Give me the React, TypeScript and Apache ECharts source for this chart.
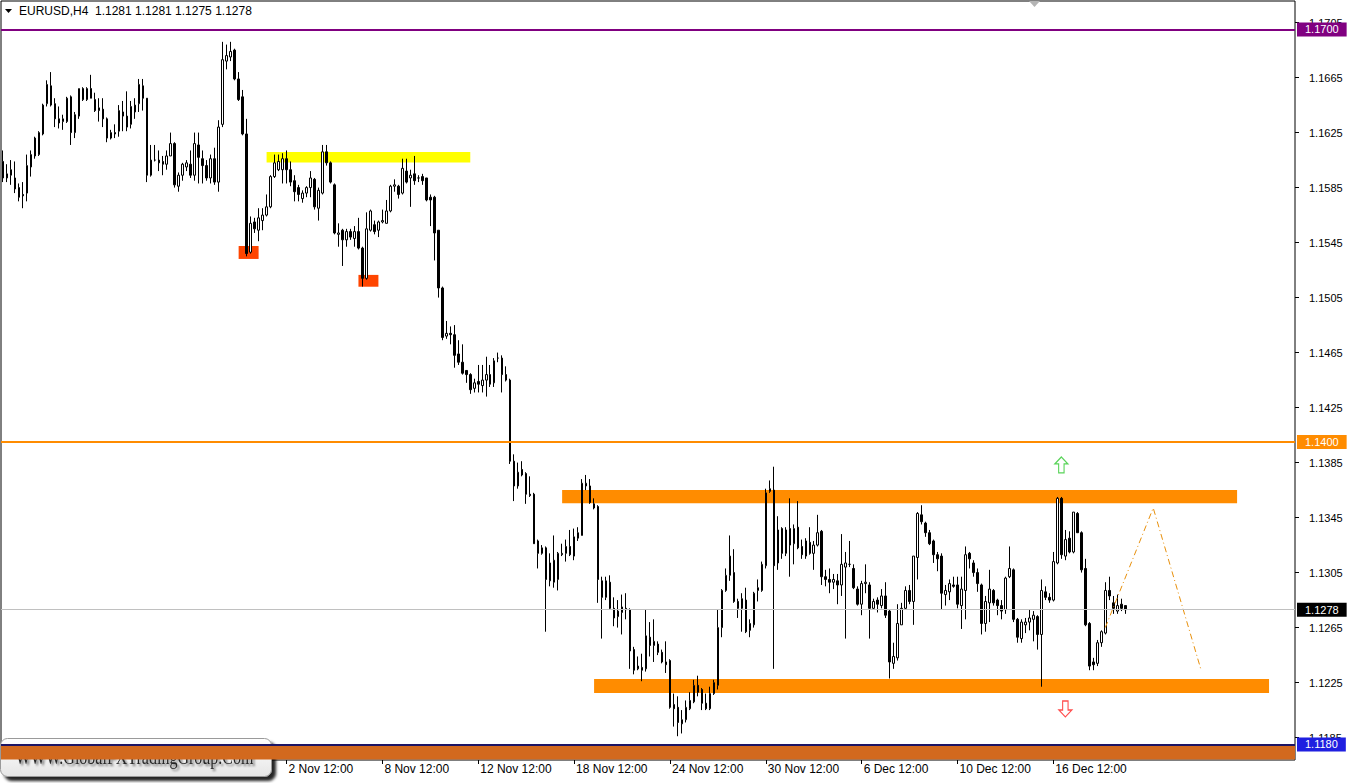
import React, { useEffect, useRef } from 'react';
import * as echarts from 'echarts';

// EURUSD H4 candles: [open, close, low, high]
const candles: number[][] = [
  [1.1604, 1.1592, 1.1589, 1.1612], [1.1592, 1.1595, 1.1589, 1.1602], [1.1594, 1.1598, 1.1587, 1.1605],
  [1.1592, 1.1584, 1.1581, 1.1604], [1.1585, 1.1578, 1.1575, 1.1588], [1.1580, 1.1579, 1.1570, 1.1589],
  [1.1581, 1.1601, 1.1575, 1.1609], [1.1600, 1.1609, 1.1593, 1.1612], [1.1621, 1.1608, 1.1606, 1.1622],
  [1.1609, 1.1625, 1.1608, 1.1626], [1.1624, 1.1645, 1.1623, 1.1646], [1.1646, 1.1660, 1.1644, 1.1663],
  [1.1659, 1.1645, 1.1644, 1.1669], [1.1646, 1.1635, 1.1629, 1.1650], [1.1635, 1.1632, 1.1628, 1.1644],
  [1.1633, 1.1635, 1.1627, 1.1638], [1.1633, 1.1650, 1.1632, 1.1651], [1.1651, 1.1625, 1.1616, 1.1652],
  [1.1625, 1.1638, 1.1621, 1.1640], [1.1637, 1.1657, 1.1635, 1.1657], [1.1657, 1.1649, 1.1648, 1.1658],
  [1.1649, 1.1657, 1.1648, 1.1658], [1.1657, 1.1650, 1.1650, 1.1667], [1.1649, 1.1641, 1.1640, 1.1654],
  [1.1641, 1.1643, 1.1633, 1.1650], [1.1642, 1.1635, 1.1629, 1.1650], [1.1635, 1.1621, 1.1618, 1.1636],
  [1.1621, 1.1625, 1.1620, 1.1627], [1.1625, 1.1624, 1.1621, 1.1631], [1.1626, 1.1641, 1.1622, 1.1645],
  [1.1640, 1.1637, 1.1626, 1.1648], [1.1637, 1.1629, 1.1626, 1.1655], [1.1631, 1.1644, 1.1628, 1.1648],
  [1.1640, 1.1645, 1.1635, 1.1650], [1.1646, 1.1660, 1.1640, 1.1664], [1.1659, 1.1650, 1.1641, 1.1664],
  [1.1650, 1.1594, 1.1589, 1.1650], [1.1594, 1.1605, 1.1593, 1.1616], [1.1605, 1.1605, 1.1604, 1.1616],
  [1.1605, 1.1603, 1.1597, 1.1612], [1.1604, 1.1602, 1.1594, 1.1608], [1.1602, 1.1608, 1.1598, 1.1612],
  [1.1608, 1.1617, 1.1608, 1.1625], [1.1617, 1.1587, 1.1585, 1.1618], [1.1586, 1.1594, 1.1582, 1.1596],
  [1.1594, 1.1602, 1.1590, 1.1603], [1.1600, 1.1603, 1.1597, 1.1605], [1.1602, 1.1594, 1.1592, 1.1612],
  [1.1594, 1.1617, 1.1590, 1.1625], [1.1616, 1.1607, 1.1588, 1.1625], [1.1606, 1.1601, 1.1588, 1.1612],
  [1.1601, 1.1592, 1.1590, 1.1605], [1.1592, 1.1606, 1.1588, 1.1609], [1.1606, 1.1589, 1.1587, 1.1614],
  [1.1589, 1.1629, 1.1582, 1.1634], [1.1631, 1.1678, 1.1629, 1.1691], [1.1677, 1.1681, 1.1671, 1.1689],
  [1.1680, 1.1684, 1.1677, 1.1691], [1.1685, 1.1664, 1.1663, 1.1686], [1.1664, 1.1649, 1.1648, 1.1669],
  [1.1651, 1.1624, 1.1623, 1.1656], [1.1624, 1.1537, 1.1535, 1.1635], [1.1538, 1.1559, 1.1537, 1.1564],
  [1.1560, 1.1555, 1.1552, 1.1563], [1.1554, 1.1563, 1.1546, 1.1570], [1.1561, 1.1565, 1.1554, 1.1570],
  [1.1565, 1.1571, 1.1564, 1.1580], [1.1571, 1.1593, 1.1570, 1.1594], [1.1593, 1.1603, 1.1592, 1.1609],
  [1.1598, 1.1604, 1.1597, 1.1609], [1.1598, 1.1606, 1.1588, 1.1610], [1.1606, 1.1598, 1.1588, 1.1612],
  [1.1598, 1.1589, 1.1586, 1.1604], [1.1590, 1.1582, 1.1575, 1.1594], [1.1585, 1.1580, 1.1575, 1.1587],
  [1.1577, 1.1581, 1.1574, 1.1583], [1.1581, 1.1585, 1.1578, 1.1586], [1.1585, 1.1592, 1.1578, 1.1597],
  [1.1591, 1.1571, 1.1569, 1.1592], [1.1570, 1.1583, 1.1561, 1.1585], [1.1581, 1.1611, 1.1580, 1.1616],
  [1.1611, 1.1603, 1.1601, 1.1616], [1.1603, 1.1589, 1.1588, 1.1604], [1.1587, 1.1552, 1.1551, 1.1588],
  [1.1551, 1.1552, 1.1542, 1.1559], [1.1554, 1.1547, 1.1528, 1.1555], [1.1547, 1.1553, 1.1542, 1.1555],
  [1.1553, 1.1549, 1.1547, 1.1555], [1.1548, 1.1553, 1.1542, 1.1557], [1.1553, 1.1541, 1.1540, 1.1563],
  [1.1541, 1.1519, 1.1513, 1.1542], [1.1519, 1.1555, 1.1518, 1.1567], [1.1554, 1.1568, 1.1553, 1.1569],
  [1.1558, 1.1553, 1.1551, 1.1561], [1.1554, 1.1560, 1.1549, 1.1561], [1.1560, 1.1561, 1.1559, 1.1569],
  [1.1559, 1.1568, 1.1559, 1.1576], [1.1568, 1.1586, 1.1567, 1.1587], [1.1586, 1.1587, 1.1582, 1.1591],
  [1.1586, 1.1580, 1.1577, 1.1587], [1.1581, 1.1599, 1.1580, 1.1606], [1.1597, 1.1589, 1.1588, 1.1606],
  [1.1592, 1.1594, 1.1571, 1.1598], [1.1595, 1.1590, 1.1587, 1.1608], [1.1592, 1.1592, 1.1589, 1.1594],
  [1.1593, 1.1590, 1.1587, 1.1595], [1.1592, 1.1576, 1.1575, 1.1592], [1.1578, 1.1576, 1.1557, 1.1580],
  [1.1578, 1.1552, 1.1532, 1.1579], [1.1554, 1.1512, 1.1505, 1.1554], [1.1512, 1.1476, 1.1474, 1.1513],
  [1.1477, 1.1479, 1.1475, 1.1488], [1.1479, 1.1478, 1.1471, 1.1484], [1.1478, 1.1463, 1.1454, 1.1485],
  [1.1464, 1.1458, 1.1456, 1.1474], [1.1458, 1.1450, 1.1449, 1.1471], [1.1452, 1.1449, 1.1443, 1.1452],
  [1.1449, 1.1438, 1.1435, 1.1450], [1.1439, 1.1443, 1.1436, 1.1446], [1.1444, 1.1442, 1.1436, 1.1456],
  [1.1441, 1.1445, 1.1436, 1.1456], [1.1445, 1.1449, 1.1433, 1.1462], [1.1449, 1.1442, 1.1440, 1.1456],
  [1.1443, 1.1459, 1.1440, 1.1461], [1.1461, 1.1461, 1.1458, 1.1465], [1.1461, 1.1449, 1.1436, 1.1463],
  [1.1449, 1.1445, 1.1444, 1.1455], [1.1445, 1.1386, 1.1384, 1.1446], [1.1386, 1.1368, 1.1357, 1.1391],
  [1.1368, 1.1378, 1.1366, 1.1385], [1.1380, 1.1376, 1.1375, 1.1386], [1.1377, 1.1362, 1.1355, 1.1378],
  [1.1362, 1.1361, 1.1360, 1.1375], [1.1362, 1.1326, 1.1326, 1.1363], [1.1328, 1.1319, 1.1308, 1.1329],
  [1.1319, 1.1323, 1.1318, 1.1325], [1.1323, 1.1300, 1.1262, 1.1324], [1.1299, 1.1312, 1.1295, 1.1319],
  [1.1298, 1.1314, 1.1294, 1.1332], [1.1300, 1.1319, 1.1292, 1.1320], [1.1318, 1.1319, 1.1317, 1.1326],
  [1.1319, 1.1324, 1.1313, 1.1329], [1.1324, 1.1318, 1.1317, 1.1336], [1.1317, 1.1331, 1.1314, 1.1337],
  [1.1330, 1.1334, 1.1328, 1.1338], [1.1332, 1.1370, 1.1332, 1.1373], [1.1368, 1.1370, 1.1365, 1.1376],
  [1.1368, 1.1356, 1.1355, 1.1373], [1.1355, 1.1352, 1.1351, 1.1359], [1.1353, 1.1300, 1.1283, 1.1354],
  [1.1299, 1.1287, 1.1257, 1.1302], [1.1287, 1.1299, 1.1285, 1.1302], [1.1298, 1.1279, 1.1278, 1.1303],
  [1.1279, 1.1272, 1.1266, 1.1287], [1.1273, 1.1277, 1.1265, 1.1285], [1.1276, 1.1280, 1.1260, 1.1289],
  [1.1279, 1.1278, 1.1271, 1.1290], [1.1278, 1.1248, 1.1235, 1.1279], [1.1249, 1.1234, 1.1231, 1.1251],
  [1.1235, 1.1237, 1.1234, 1.1244], [1.1236, 1.1234, 1.1226, 1.1246], [1.1235, 1.1259, 1.1233, 1.1278],
  [1.1258, 1.1252, 1.1244, 1.1269], [1.1252, 1.1255, 1.1240, 1.1271], [1.1253, 1.1247, 1.1245, 1.1255],
  [1.1247, 1.1240, 1.1239, 1.1249], [1.1240, 1.1238, 1.1232, 1.1255], [1.1241, 1.1207, 1.1206, 1.1242],
  [1.1209, 1.1206, 1.1193, 1.1217], [1.1207, 1.1196, 1.1186, 1.1215], [1.1195, 1.1198, 1.1188, 1.1205],
  [1.1198, 1.1207, 1.1196, 1.1212], [1.1206, 1.1212, 1.1205, 1.1218], [1.1211, 1.1223, 1.1210, 1.1227],
  [1.1223, 1.1218, 1.1215, 1.1230], [1.1220, 1.1210, 1.1205, 1.1221], [1.1210, 1.1206, 1.1205, 1.1217],
  [1.1206, 1.1217, 1.1205, 1.1222], [1.1217, 1.1225, 1.1216, 1.1227], [1.1223, 1.1265, 1.1220, 1.1278],
  [1.1265, 1.1292, 1.1258, 1.1293], [1.1292, 1.1303, 1.1291, 1.1308], [1.1303, 1.1317, 1.1299, 1.1332],
  [1.1305, 1.1284, 1.1283, 1.1322], [1.1284, 1.1279, 1.1272, 1.1286], [1.1279, 1.1286, 1.1262, 1.1290],
  [1.1285, 1.1262, 1.1261, 1.1294], [1.1263, 1.1268, 1.1258, 1.1271], [1.1267, 1.1290, 1.1265, 1.1291],
  [1.1292, 1.1294, 1.1284, 1.1300], [1.1292, 1.1311, 1.1291, 1.1313], [1.1310, 1.1363, 1.1308, 1.1366],
  [1.1364, 1.1366, 1.1363, 1.1372], [1.1365, 1.1310, 1.1235, 1.1382], [1.1312, 1.1336, 1.1307, 1.1346],
  [1.1337, 1.1319, 1.1315, 1.1338], [1.1319, 1.1336, 1.1317, 1.1338], [1.1337, 1.1325, 1.1302, 1.1359],
  [1.1326, 1.1337, 1.1311, 1.1340], [1.1338, 1.1323, 1.1322, 1.1357], [1.1324, 1.1318, 1.1315, 1.1329],
  [1.1317, 1.1328, 1.1315, 1.1330], [1.1327, 1.1319, 1.1318, 1.1338], [1.1319, 1.1325, 1.1307, 1.1328],
  [1.1325, 1.1334, 1.1324, 1.1347], [1.1335, 1.1302, 1.1296, 1.1336], [1.1302, 1.1300, 1.1295, 1.1307],
  [1.1300, 1.1298, 1.1290, 1.1308], [1.1298, 1.1300, 1.1293, 1.1304], [1.1299, 1.1296, 1.1282, 1.1304],
  [1.1296, 1.1311, 1.1288, 1.1333], [1.1309, 1.1312, 1.1257, 1.1320], [1.1311, 1.1311, 1.1309, 1.1328],
  [1.1308, 1.1294, 1.1293, 1.1311], [1.1293, 1.1282, 1.1281, 1.1295], [1.1282, 1.1297, 1.1274, 1.1299],
  [1.1297, 1.1298, 1.1290, 1.1311], [1.1296, 1.1279, 1.1257, 1.1298], [1.1279, 1.1284, 1.1278, 1.1286],
  [1.1285, 1.1282, 1.1276, 1.1287], [1.1281, 1.1288, 1.1279, 1.1293], [1.1288, 1.1274, 1.1272, 1.1298],
  [1.1277, 1.1240, 1.1228, 1.1278], [1.1239, 1.1244, 1.1235, 1.1254], [1.1243, 1.1268, 1.1241, 1.1282],
  [1.1267, 1.1279, 1.1267, 1.1283], [1.1279, 1.1292, 1.1278, 1.1295], [1.1292, 1.1284, 1.1282, 1.1296],
  [1.1284, 1.1317, 1.1267, 1.1317], [1.1316, 1.1348, 1.1300, 1.1349], [1.1347, 1.1342, 1.1340, 1.1354],
  [1.1341, 1.1334, 1.1331, 1.1342], [1.1334, 1.1326, 1.1325, 1.1336], [1.1328, 1.1318, 1.1312, 1.1329],
  [1.1318, 1.1315, 1.1306, 1.1320], [1.1317, 1.1290, 1.1278, 1.1319], [1.1289, 1.1292, 1.1281, 1.1296],
  [1.1291, 1.1297, 1.1285, 1.1300], [1.1296, 1.1295, 1.1294, 1.1302], [1.1296, 1.1282, 1.1279, 1.1302],
  [1.1281, 1.1293, 1.1264, 1.1302], [1.1292, 1.1318, 1.1271, 1.1324], [1.1319, 1.1315, 1.1308, 1.1320],
  [1.1312, 1.1305, 1.1302, 1.1314], [1.1305, 1.1297, 1.1291, 1.1308], [1.1296, 1.1268, 1.1260, 1.1297],
  [1.1268, 1.1284, 1.1262, 1.1288], [1.1283, 1.1293, 1.1269, 1.1307], [1.1292, 1.1283, 1.1281, 1.1293],
  [1.1285, 1.1281, 1.1274, 1.1286], [1.1281, 1.1277, 1.1271, 1.1285], [1.1278, 1.1301, 1.1275, 1.1302],
  [1.1302, 1.1308, 1.1301, 1.1324], [1.1307, 1.1271, 1.1269, 1.1308], [1.1271, 1.1258, 1.1254, 1.1272],
  [1.1257, 1.1269, 1.1254, 1.1271], [1.1267, 1.1269, 1.1261, 1.1272], [1.1269, 1.1272, 1.1263, 1.1278],
  [1.1271, 1.1274, 1.1255, 1.1277], [1.1273, 1.1260, 1.1249, 1.1274], [1.1260, 1.1292, 1.1222, 1.1300],
  [1.1291, 1.1287, 1.1285, 1.1295], [1.1287, 1.1285, 1.1283, 1.1290], [1.1285, 1.1313, 1.1284, 1.1320],
  [1.1312, 1.1359, 1.1311, 1.1360], [1.1359, 1.1318, 1.1315, 1.1360], [1.1317, 1.1329, 1.1314, 1.1336],
  [1.1330, 1.1320, 1.1319, 1.1335], [1.1320, 1.1349, 1.1319, 1.1349], [1.1348, 1.1334, 1.1334, 1.1349],
  [1.1334, 1.1307, 1.1305, 1.1335], [1.1308, 1.1267, 1.1266, 1.1315], [1.1268, 1.1237, 1.1234, 1.1269],
  [1.1240, 1.1238, 1.1234, 1.1243], [1.1239, 1.1254, 1.1237, 1.1256], [1.1254, 1.1262, 1.1251, 1.1263],
  [1.1261, 1.1292, 1.1260, 1.1298], [1.1292, 1.1288, 1.1285, 1.1302], [1.1283, 1.1279, 1.1275, 1.1288],
  [1.1277, 1.1281, 1.1275, 1.1289], [1.1282, 1.1279, 1.1277, 1.1286], [1.1281, 1.1278, 1.1275, 1.1281],
];

// empty bars to the right of the last candle (chart shift)
const shiftBars = 42;

// time axis labels and the bar index where each one sits
const dateLabels = ['2 Nov 12:00', '8 Nov 12:00', '12 Nov 12:00', '18 Nov 12:00', '24 Nov 12:00',
  '30 Nov 12:00', '6 Dec 12:00', '10 Dec 12:00', '16 Dec 12:00'];
const dateLabelBars = [71, 95, 119, 143, 167, 191, 215, 239, 263];

// price scale ticks
const priceTicks = [1.1185, 1.1225, 1.1265, 1.1305, 1.1345, 1.1385, 1.1425, 1.1465, 1.1505,
  1.1545, 1.1585, 1.1625, 1.1665, 1.1705];
const priceMin = 1.11687;
const priceMax = 1.17207;

// horizontal levels
const levelPrices = [1.17, 1.14, 1.1278, 1.118];

// zones: [startBar, endBar, upperPrice, lowerPrice]
const resistanceZone = [140, 309, 1.1365, 1.13555];
const supportZone = [148, 317, 1.12276, 1.12175];
const yellowZone = [66, 117, 1.16109, 1.16033];
const lowMarks = [
  [59, 64, 1.15425, 1.15331],
  [89, 94, 1.15215, 1.15129],
];
const bottomBand = [1.118, 1.1169];

// arrows [bar, price]
const upArrow = [265, 1.13833];
const downArrow = [266, 1.12058];

// projected path [bar, price]
const projection = [[276, 1.1265], [288, 1.1352], [300, 1.1234]];

const FONT = '"Liberation Sans", Arial, sans-serif';

export default function App() {
  const ref = useRef<HTMLDivElement>(null);

  useEffect(() => {
    const chart = echarts.init(ref.current!, null, { renderer: 'svg' });
    const slots = Array.from({ length: candles.length + shiftBars }, (_, i) => String(i));
    const labelMap: Record<number, string> = {};
    dateLabelBars.forEach((b, i) => { labelMap[b] = dateLabels[i]; });
    const last = candles[candles.length - 1];
    const header = `EURUSD,H4  ${last[0].toFixed(4)} ${last[3].toFixed(4)} ${last[2].toFixed(4)} ${last[1].toFixed(4)}`;

    const levelStyles = [
      { line: '#800080', width: 2, bg: '#800080' },
      { line: '#ff8c00', width: 2, bg: '#ff8c00' },
      { line: '#c0c0c0', width: 1, bg: '#000000' },
      { line: '#1c1464', width: 2, bg: '#1f1fe0' },
    ];

    const zoneItem = (z: number[], color: string) => [
      { xAxis: z[0], yAxis: z[2], itemStyle: { color } },
      { xAxis: z[1], yAxis: z[3] },
    ];

    const option: any = {
      animation: false,
      backgroundColor: '#ffffff',
      grid: { left: 1, top: 1, right: 56, bottom: 23, show: true, borderColor: '#000', borderWidth: 1, backgroundColor: 'transparent' },
      xAxis: {
        type: 'category',
        data: slots,
        boundaryGap: true,
        axisLine: { show: false },
        axisTick: {
          show: true,
          alignWithLabel: true,
          interval: (i: number) => labelMap[i] !== undefined,
          length: 4,
          lineStyle: { color: '#000' },
        },
        axisLabel: {
          interval: (i: number) => labelMap[i] !== undefined,
          formatter: (_v: string, i: number) => labelMap[i] ?? '',
          align: 'left',
          margin: 3,
          padding: [0, 0, 0, 2],
          color: '#000',
          fontSize: 12,
          fontFamily: FONT,
        },
        splitLine: { show: false },
      },
      yAxis: {
        type: 'value',
        position: 'right',
        min: priceMin,
        max: priceMax,
        scale: true,
        axisLine: { show: false },
        splitLine: { show: false },
        axisTick: { show: true, customValues: priceTicks, length: 4, lineStyle: { color: '#000' } },
        axisLabel: {
          customValues: priceTicks,
          formatter: (v: number) => v.toFixed(4),
          color: '#000',
          fontSize: 11,
          fontFamily: FONT,
          margin: 14,
        },
      },
      graphic: [
        {
          type: 'polygon', left: 5, top: 9, z: 10,
          shape: { points: [[0, 0], [7, 0], [3.5, 4]] },
          style: { fill: '#000' },
        },
        {
          type: 'text', left: 19, top: 5, z: 10,
          style: { text: header, font: `12px ${FONT}`, fill: '#000' },
        },
        {
          type: 'polygon', left: 1029, top: 1, z: 10,
          shape: { points: [[0, 0], [11, 0], [5.5, 6]] },
          style: { fill: '#b4b4b4' },
        },
        {
          type: 'group', left: 0, top: 738, z: 20,
          children: [
            {
              type: 'rect',
              shape: { x: 0, y: 0, width: 271, height: 38, r: 7 },
              style: {
                fill: new echarts.graphic.LinearGradient(0, 0, 0, 1, [
                  { offset: 0, color: '#ffffff' },
                  { offset: 1, color: '#e6e6e6' },
                ]),
                stroke: '#9a9a9a',
                lineWidth: 1,
                shadowBlur: 3,
                shadowOffsetX: 4,
                shadowOffsetY: 4,
                shadowColor: 'rgba(0,0,0,0.85)',
              },
            },
            {
              type: 'text',
              x: 15, y: 19, scaleX: 0.8,
              style: {
                text: 'WWW.GlobalFXTradingGroup.Com',
                font: '20px "Liberation Serif", serif',
                fill: '#262626',
                verticalAlign: 'middle',
                textShadowColor: 'rgba(0,0,0,0.55)',
                textShadowBlur: 2,
                textShadowOffsetX: 2,
                textShadowOffsetY: 2,
              },
            },
          ],
        },
      ],
      series: [
        {
          type: 'candlestick',
          data: candles,
          barWidth: 2,
          z: 3,
          itemStyle: {
            color: '#ffffff',
            color0: '#000000',
            borderColor: '#000000',
            borderColor0: '#000000',
            borderWidth: 1,
          },
          markArea: {
            silent: true,
            label: { show: false },
            data: [
              zoneItem(yellowZone, '#ffff00'),
              ...lowMarks.map((m) => zoneItem(m, '#ff4500')),
              zoneItem(resistanceZone, '#ff8c00'),
              zoneItem(supportZone, '#ff8c00'),
              [
                { yAxis: bottomBand[0], itemStyle: { color: '#d2691e' } },
                { yAxis: bottomBand[1] },
              ],
            ],
          },
          markLine: {
            silent: true,
            precision: 6,
            symbol: ['none', 'none'],
            data: levelPrices.map((p, i) => ({
              yAxis: p,
              lineStyle: { color: levelStyles[i].line, width: levelStyles[i].width, type: 'solid' },
              label: {
                show: true,
                position: 'end',
                distance: 2,
                formatter: () => p.toFixed(4),
                color: '#ffffff',
                backgroundColor: levelStyles[i].bg,
                padding: [2, 8, 1, 8],
                fontSize: 11,
                fontFamily: FONT,
              },
            })),
          },
        },
        {
          type: 'line',
          data: projection,
          symbol: 'none',
          z: 4,
          lineStyle: { color: '#e8900c', width: 1, type: [6, 3, 1, 3] },
        },
        {
          type: 'scatter',
          z: 4,
          data: [upArrow],
          symbol: 'path://M6,0L12,7L8.5,7L8.5,16L3.5,16L3.5,7L0,7Z',
          symbolSize: [13, 16],
          itemStyle: { color: 'rgba(0,0,0,0)', borderColor: '#2ec82e', borderWidth: 1.2 },
        },
        {
          type: 'scatter',
          z: 4,
          data: [downArrow],
          symbol: 'path://M3.5,0L8.5,0L8.5,9L12,9L6,16L0,9L3.5,9Z',
          symbolSize: [13, 16],
          itemStyle: { color: 'rgba(0,0,0,0)', borderColor: '#ff2020', borderWidth: 1.2 },
        },
      ],
    };

    chart.setOption(option);
    return () => chart.dispose();
  }, []);

  return (
    <div
      ref={ref}
      style={{ position: 'fixed', left: 0, top: 0, width: 1351, height: 783, background: '#fff' }}
    />
  );
}
